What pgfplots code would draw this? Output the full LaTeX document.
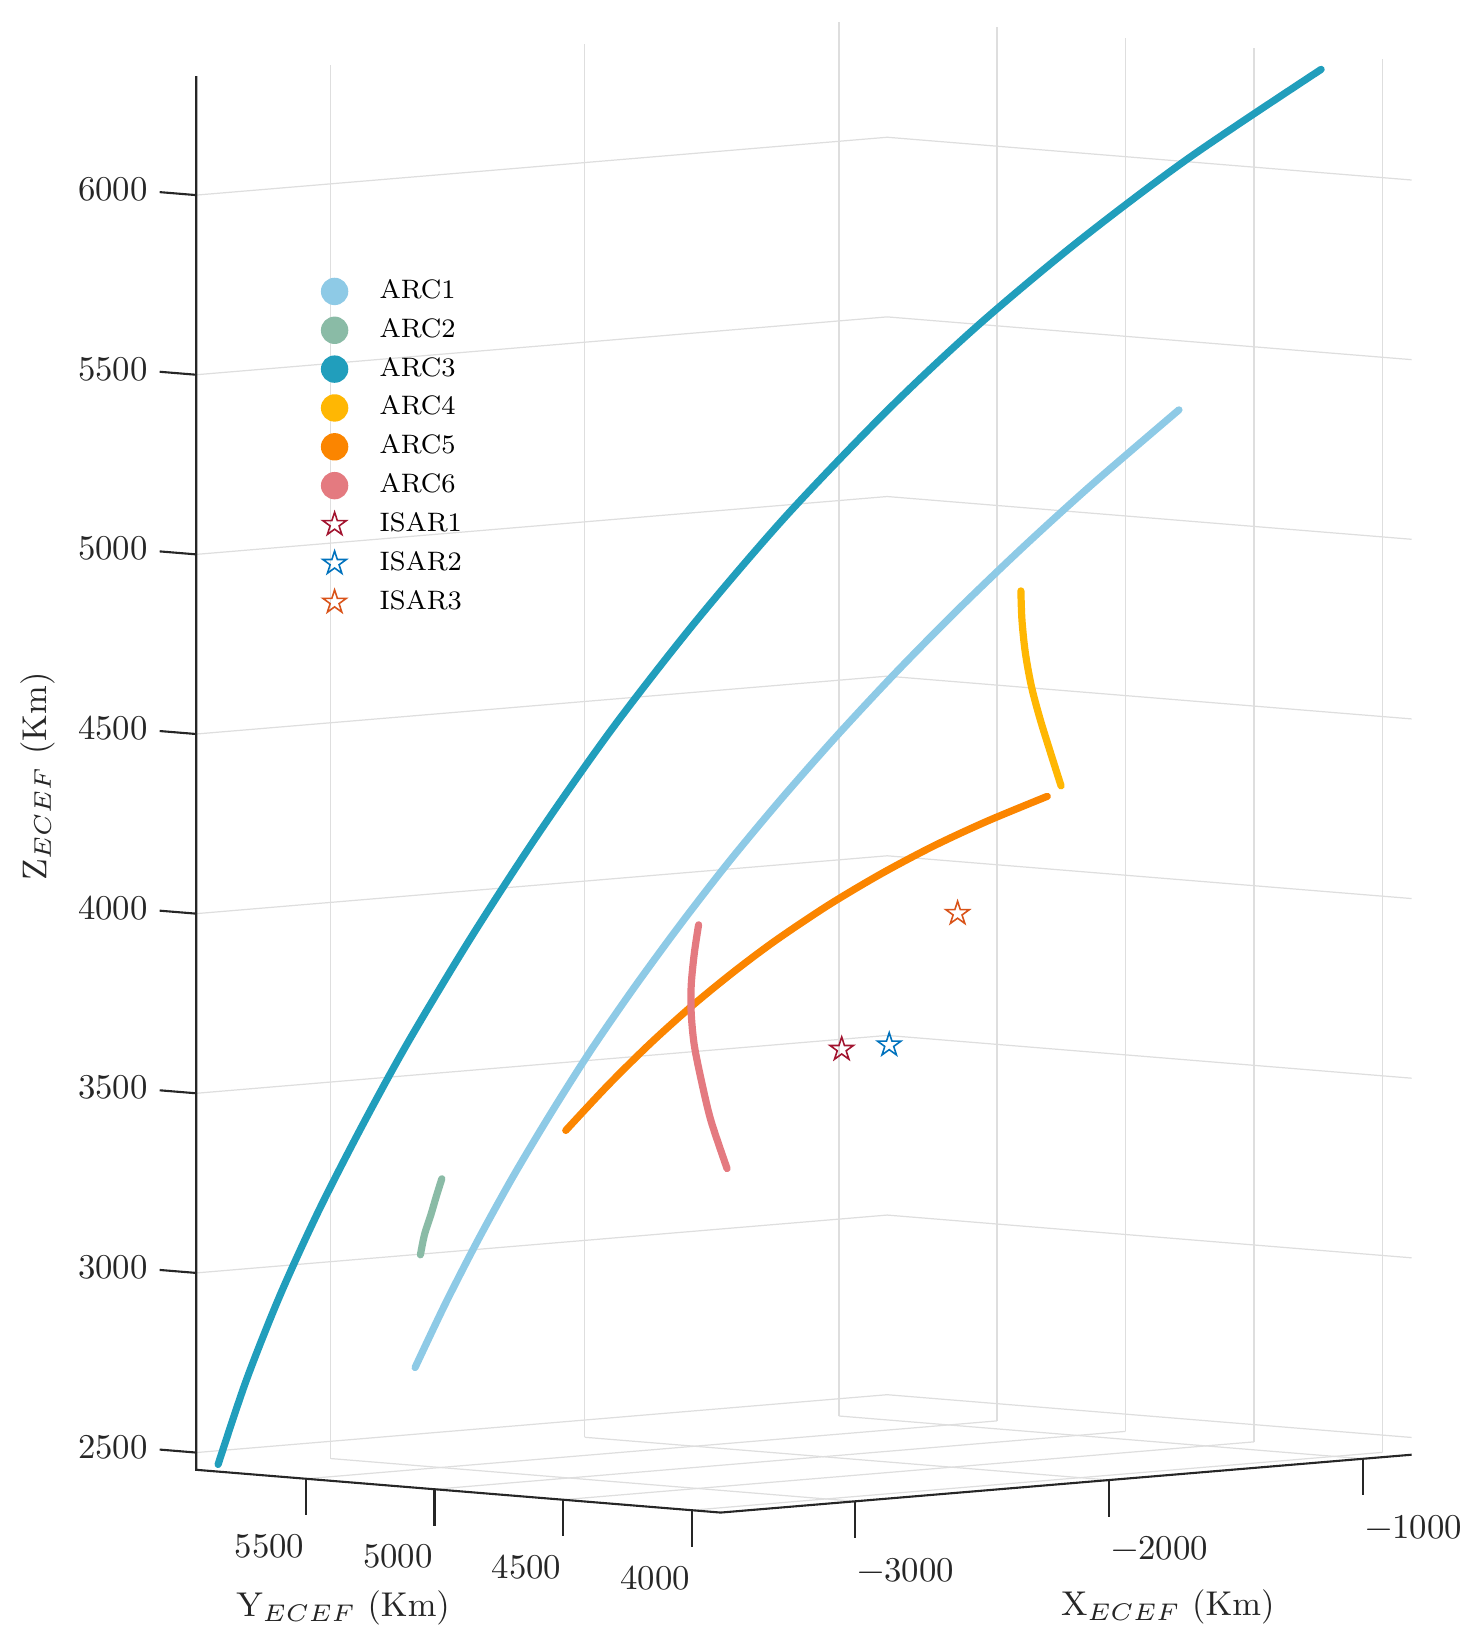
\RequirePackage{fix-cm}
\documentclass[border=0pt]{standalone}
\usepackage{pgfplots}
\pgfplotsset{compat=1.18}
\definecolor{arcone}{HTML}{8ECAE6}
\definecolor{arctwo}{HTML}{8ABBA6}
\definecolor{arcthree}{HTML}{219EBC}
\definecolor{arcfour}{HTML}{FFB703}
\definecolor{arcfive}{HTML}{FB8500}
\definecolor{arcsix}{HTML}{E47A80}
\definecolor{isarone}{HTML}{A2142F}
\definecolor{isartwo}{HTML}{0072BD}
\definecolor{isarthree}{HTML}{D95319}
\definecolor{axblack}{HTML}{262626}
\definecolor{gridgray}{HTML}{DEDEDE}
\newcommand\tickfont{\fontsize{9.9}{12}\selectfont}
\newcommand\labfont{\fontsize{9.8}{12}\selectfont}
\pgfdeclareplotmark{pentastar}{%
  \pgfpathmoveto{\pgfpointpolar{90}{\pgfplotmarksize}}%
  \pgfpathlineto{\pgfpointpolar{126}{0.382\pgfplotmarksize}}%
  \pgfpathlineto{\pgfpointpolar{162}{\pgfplotmarksize}}%
  \pgfpathlineto{\pgfpointpolar{198}{0.382\pgfplotmarksize}}%
  \pgfpathlineto{\pgfpointpolar{234}{\pgfplotmarksize}}%
  \pgfpathlineto{\pgfpointpolar{270}{0.382\pgfplotmarksize}}%
  \pgfpathlineto{\pgfpointpolar{306}{\pgfplotmarksize}}%
  \pgfpathlineto{\pgfpointpolar{342}{0.382\pgfplotmarksize}}%
  \pgfpathlineto{\pgfpointpolar{18}{\pgfplotmarksize}}%
  \pgfpathlineto{\pgfpointpolar{54}{0.382\pgfplotmarksize}}%
  \pgfpathclose\pgfusepathqstroke}
\pgfplotsset{
  arcstyle/.style={color=#1, line width=2.05pt, line cap=round, line join=round, smooth, no marks,
    legend image code/.code={\path[draw=none,fill=none] (-3.9pt,-3.9pt) rectangle (3.9pt,3.9pt);
      \fill[#1, draw=none] (0pt,0pt) circle (3.9pt);}},
  isarstyle/.style={color=#1, only marks, mark=pentastar, mark size=3.5pt, mark options={line width=0.45pt, fill=none, solid},
    legend image code/.code={\path[draw=none,fill=none] (-3.9pt,-3.9pt) rectangle (3.9pt,3.9pt);
      \pgfsetlinewidth{0.45pt}\pgfsetstrokecolor{#1}\pgfuseplotmark{pentastar}}},
}
\begin{document}
\begin{tikzpicture}
\begin{axis}[
  x={(0.07236pt,0.00606pt)}, y={(-0.0732pt,0.00597pt)}, z={(0pt,0.1023pt)},
  xmin=-3529, xmax=-810, ymin=3887, ymax=5927, zmin=2452, zmax=6331,
  xtick={-3000,-2000,-1000}, ytick={4000,4500,5000,5500},
  ztick={2500,3000,3500,4000,4500,5000,5500,6000},
  xticklabels={}, yticklabels={}, zticklabels={},
  tick style={draw=none}, major tick length=0pt,
  axis line style={draw=none},
  grid=major,
  major grid style={draw=gridgray, line width=0.35pt},
  clip=false,
  legend cell align=left,
  legend style={draw=none, fill=none,
    at={(axis description cs:0.1026,0.8264)}, anchor=north west,
    inner sep=0pt, outer sep=0pt,
    font=\fontsize{7.6}{9}\selectfont,
    row sep=3.26pt,
    nodes={inner sep=0pt},
    /tikz/every odd column/.append style={column sep=8.9pt}},
]
\addplot3[arcstyle=arcone] coordinates {
(-3011.6,5587,2726) (-2987.1,5494.6,2905.8) (-2953.5,5402,3085) (-2909.2,5310,3264)
(-2854.9,5217,3442) (-2789.8,5125,3620) (-2712.7,5032.5,3796) (-2624.4,4940,3972)
(-2524,4848,4148) (-2411.3,4755,4322.5) (-2285.6,4663,4496) (-2146.7,4570.5,4669.5)
(-1994.6,4478,4842) (-1828.3,4385.7,5013.4) (-1648,4293,5184) (-1422,4187,5379)};
\addlegendentry{ARC1}
\addplot3[arcstyle=arctwo] coordinates {
(-3193,5387,3062) (-3182,5382,3118) (-3162,5377,3172) (-3146,5372,3222) (-3129,5367,3271)};
\addlegendentry{ARC2}
\addplot3[arcstyle=arcthree] coordinates {
(-3453,5917,2463) (-3466.6,5794,2705) (-3458,5672,2947) (-3431,5549,3187)
(-3386,5426,3426) (-3327,5304,3665) (-3234,5150,3961) (-3119,4997,4257)
(-2982,4844,4551) (-2815,4690,4843) (-2615,4537,5133) (-2372,4384,5421)
(-2142,4261,5650) (-1872,4138,5875) (-1556,4016,6098) (-1166,3887,6329)};
\addlegendentry{ARC3}
\addplot3[arcstyle=arcfour] coordinates {
(-1437,4787,4841) (-1433,4787,4761) (-1420,4787,4670) (-1396,4787,4574)
(-1362,4787,4481) (-1321,4787,4385) (-1279,4787,4289)};
\addlegendentry{ARC4}
\addplot3[arcstyle=arcfive] coordinates {
(-2823.4,5187,3398) (-2692.8,5152,3518) (-2562.6,5117,3628) (-2432,5082,3728)
(-2301.8,5047,3818) (-2171.2,5012,3900) (-2008.3,4968,3991) (-1845.3,4924,4071)
(-1682.4,4881,4141) (-1519,4837,4202) (-1333.3,4787,4263)};
\addlegendentry{ARC5}
\addplot3[arcstyle=arcsix] coordinates {
(-2503,4987,3963) (-2520,4987,3884) (-2532,4987,3797) (-2532,4987,3718)
(-2520,4987,3629) (-2491,4987,3525) (-2454,4987,3414) (-2391,4987,3278)};
\addlegendentry{ARC6}
\addplot3[isarstyle=isarone] coordinates {(-2041,4887,3595)};
\addlegendentry{ISAR1}
\addplot3[isarstyle=isartwo] coordinates {(-1854,4887,3596)};
\addlegendentry{ISAR2}
\addplot3[isarstyle=isarthree] coordinates {(-1585,4887,3946)};
\addlegendentry{ISAR3}
% axis lines
\draw[axblack, line width=0.6pt, line join=miter] (axis cs:-3529,5927,6331) -- (axis cs:-3529,5927,2452)
  -- (axis cs:-3529,3887,2452) -- (axis cs:-810,3887,2452);
\pgfplotsinvokeforeach{4000,4500,5000,5500}{
  \draw[axblack, line width=0.6pt] (axis cs:-3529,#1,2452) -- ++(0pt,-10.4pt);
  \node[anchor=north east, inner sep=0pt, font=\tickfont, text=axblack, xshift=-0.3pt, yshift=-15.6pt] at (axis cs:-3529,#1,2452) {#1};
}
\pgfplotsinvokeforeach{-3000,-2000,-1000}{
  \draw[axblack, line width=0.6pt] (axis cs:#1,3887,2452) -- ++(0pt,-10.4pt);
}
\node[anchor=north west, inner sep=0pt, font=\tickfont, text=axblack, xshift=0.4pt, yshift=-15.9pt] at (axis cs:-3000,3887,2452) {−3000};
\node[anchor=north west, inner sep=0pt, font=\tickfont, text=axblack, xshift=0.4pt, yshift=-15.9pt] at (axis cs:-2000,3887,2452) {−2000};
\node[anchor=north west, inner sep=0pt, font=\tickfont, text=axblack, xshift=0.4pt, yshift=-15.9pt] at (axis cs:-1000,3887,2452) {−1000};
\pgfplotsinvokeforeach{2500,3000,3500,4000,4500,5000,5500,6000}{
  \draw[axblack, line width=0.6pt] (axis cs:-3529,5927,#1) -- ++(-10.4pt,0.85pt);
  \node[anchor=east, inner sep=0pt, font=\tickfont, text=axblack, xshift=-13.65pt, yshift=1.6pt] at (axis cs:-3529,5927,#1) {#1};
}
\coordinate (F) at (axis cs:-3529,3887,2452);
\end{axis}
\node[rotate=90, anchor=base, inner sep=0pt, font=\labfont, text=axblack] at ([xshift=-192pt,yshift=209.6pt]F) {$\mathrm{Z}_{ECEF}$ (Km)};
\node[anchor=base, inner sep=0pt, font=\labfont, text=axblack] at ([xshift=-107.5pt,yshift=-29.6pt]F) {$\mathrm{Y}_{ECEF}$ (Km)};
\node[anchor=base, inner sep=0pt, font=\labfont, text=axblack] at ([xshift=127.3pt,yshift=-29.4pt]F) {$\mathrm{X}_{ECEF}$ (Km)};
\pgfresetboundingbox
\useasboundingbox ([xshift=-205.2pt,yshift=-39.7pt]F) rectangle ([xshift=214.8pt,yshift=430.7pt]F);
\end{tikzpicture}
\end{document}
